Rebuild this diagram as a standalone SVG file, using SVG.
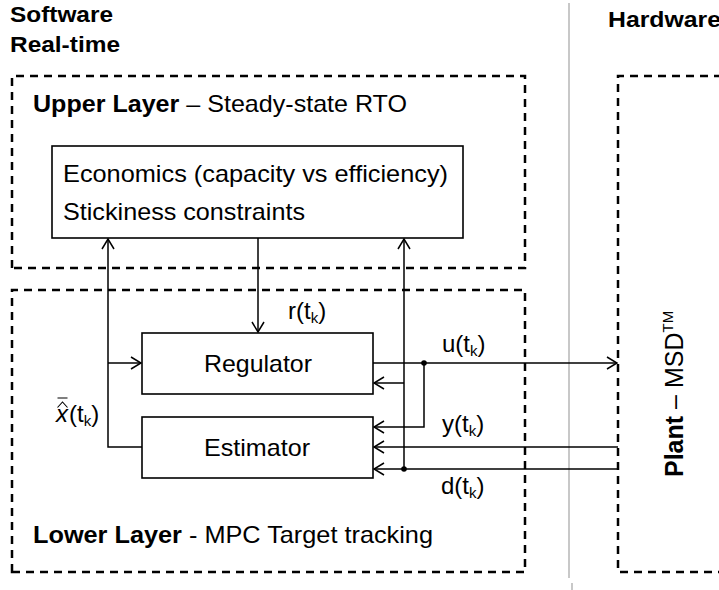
<svg xmlns="http://www.w3.org/2000/svg" width="719" height="590" viewBox="0 0 719 590">
<style>
text{font-family:"Liberation Sans",Arial,sans-serif;fill:#000}
.h{font-weight:bold;font-size:22px}
.t{font-size:24px}
.b{font-weight:bold}
.sub{font-size:15px}
.dash{fill:none;stroke:#000;stroke-width:2.5;stroke-dasharray:8 6}
.box{fill:#fff;stroke:#000;stroke-width:1.6}
.ln{fill:none;stroke:#000;stroke-width:1.5}
.arr{marker-end:url(#ah)}
</style>
<defs>
<marker id="ah" viewBox="0 0 12 14" refX="11" refY="7" markerWidth="12" markerHeight="14" markerUnits="userSpaceOnUse" orient="auto">
<path d="M1,1 L11,7 L1,13" fill="none" stroke="#000" stroke-width="1.5"/>
</marker>
</defs>
<rect width="719" height="590" fill="#fff"/>
<g id="divider">
<line x1="569" y1="3" x2="569" y2="578" stroke="#c8c8c8" stroke-width="2"/>
<line x1="572" y1="583" x2="572" y2="590" stroke="#c8c8c8" stroke-width="2"/>
</g>
<g id="headings">
<text class="h" x="10" y="22" textLength="103" lengthAdjust="spacingAndGlyphs">Software</text>
<text class="h" x="10" y="52" textLength="110" lengthAdjust="spacingAndGlyphs">Real-time</text>
<text class="h" x="608" y="27" textLength="113" lengthAdjust="spacingAndGlyphs">Hardware</text>
</g>
<g id="upper-layer">
<path class="dash" d="M12,268 L12,76 L525,76 L525,268 Z"/>
<text class="t" x="33" y="112" textLength="374" lengthAdjust="spacingAndGlyphs"><tspan class="b">Upper Layer</tspan> – Steady-state RTO</text>
</g>
<g id="lower-layer">
<path class="dash" d="M12,572 L12,290 L525,290 L525,572 Z"/>
<text class="t" x="33" y="543" textLength="400" lengthAdjust="spacingAndGlyphs"><tspan class="b">Lower Layer</tspan> - MPC Target tracking</text>
</g>
<g id="plant">
<path class="dash" d="M722,76 L618,76 L618,572 L722,572"/>
<text font-size="25" transform="translate(683,477) rotate(-90)"><tspan class="b">Plant</tspan> – MSD<tspan font-size="15" dy="-10">TM</tspan></text>
</g>
<g id="economics">
<rect class="box" x="52" y="146" width="411" height="92"/>
<text class="t" x="63" y="182" textLength="385" lengthAdjust="spacingAndGlyphs">Economics (capacity vs efficiency)</text>
<text class="t" x="63" y="220" textLength="242" lengthAdjust="spacingAndGlyphs">Stickiness constraints</text>
</g>
<g id="regulator">
<rect class="box" x="142" y="333" width="231" height="61"/>
<text class="t" x="204" y="372" textLength="108" lengthAdjust="spacingAndGlyphs">Regulator</text>
</g>
<g id="estimator">
<rect class="box" x="142" y="417" width="231" height="61"/>
<text class="t" x="204" y="456" textLength="106" lengthAdjust="spacingAndGlyphs">Estimator</text>
</g>
<g id="connectors">
<path class="ln arr" d="M142,447 L108,447 L108,239"/>
<path class="ln arr" d="M108,363 L141,363"/>
<path class="ln arr" d="M258,238 L258,332"/>
<path class="ln arr" d="M373,363 L617,363"/>
<path class="ln arr" d="M424,363 L424,427 L374,427"/>
<path class="ln arr" d="M618,447 L374,447"/>
<path class="ln arr" d="M618,469 L374,469"/>
<path class="ln arr" d="M404,469 L404,239"/>
<path class="ln arr" d="M404,383 L374,383"/>
<circle cx="424" cy="363" r="2.8" fill="#000"/>
<circle cx="404" cy="469" r="2.8" fill="#000"/>
</g>
<g id="labels">
<text class="t" x="288" y="319">r(t<tspan class="sub" dy="4">k</tspan><tspan dy="-4">)</tspan></text>
<text class="t" x="442" y="352">u(t<tspan class="sub" dy="4">k</tspan><tspan dy="-4">)</tspan></text>
<text class="t" x="442" y="432">y(t<tspan class="sub" dy="4">k</tspan><tspan dy="-4">)</tspan></text>
<text class="t" x="441" y="494">d(t<tspan class="sub" dy="4">k</tspan><tspan dy="-4">)</tspan></text>
<text x="56" y="422" font-family="Liberation Serif,serif" font-style="italic" font-size="24">x</text>
<path d="M57.5,407.5 L62.5,402 L67.5,407.5 M57.5,398 L67.5,398" fill="none" stroke="#000" stroke-width="1.1"/>
<text class="t" x="69" y="422">(t<tspan class="sub" dy="4">k</tspan><tspan dy="-4">)</tspan></text>
</g>
</svg>
